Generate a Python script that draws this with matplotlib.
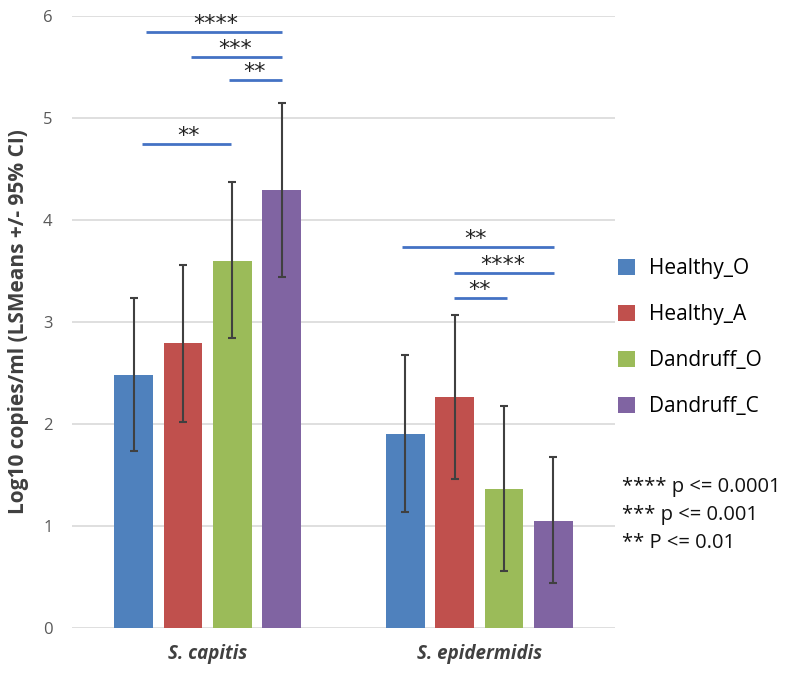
import matplotlib
matplotlib.use("Agg")
import matplotlib.pyplot as plt
import numpy as np
from matplotlib.patches import Patch

plt.rcParams['font.family'] = ['Open Sans', 'DejaVu Sans']

categories = ["S. capitis", "S. epidermidis"]
series = ["Healthy_O", "Healthy_A", "Dandruff_O", "Dandruff_C"]
colors = ["#4F81BD", "#C0504D", "#9BBB59", "#8064A2"]

means = {
    "Healthy_O":  [2.48, 1.90],
    "Healthy_A":  [2.79, 2.26],
    "Dandruff_O": [3.60, 1.36],
    "Dandruff_C": [4.29, 1.05],
}
upper = {
    "Healthy_O":  [3.23, 2.67],
    "Healthy_A":  [3.56, 3.07],
    "Dandruff_O": [4.37, 2.17],
    "Dandruff_C": [5.15, 1.67],
}
lower = {
    "Healthy_O":  [1.73, 1.13],
    "Healthy_A":  [2.02, 1.46],
    "Dandruff_O": [2.84, 0.56],
    "Dandruff_C": [3.44, 0.44],
}

# significance brackets: (x_start, x_end, y, label) in data units
sig_lines = [
    (-0.227, 0.2735, 5.84, "****"),
    (-0.062, 0.2735, 5.60, "***"),
    (0.078, 0.2735, 5.37, "**"),
    (-0.243, 0.086, 4.74, "**"),
    (0.716, 1.2735, 3.73, "**"),
    (0.907, 1.2735, 3.48, "****"),
    (0.907, 1.102, 3.23, "**"),
]
sig_text_x = [0.030, 0.100, 0.174, -0.069, 0.988, 1.088, 1.001]

pvals = ["**** p <= 0.0001", "*** p <= 0.001", "** P <= 0.01"]

fig = plt.figure(figsize=(8, 6.75), dpi=100)
ax = fig.add_axes([0.09, 0.0701, 0.67875, 0.9062])

x = np.arange(len(categories))
width = 0.1436
step = 0.1823
offsets = [-1.5 * step, -0.5 * step, 0.5 * step, 1.5 * step]

for s, c, off in zip(series, colors, offsets):
    m = np.array(means[s])
    up = np.array(upper[s]) - m
    lo = m - np.array(lower[s])
    ax.bar(x + off, m, width, color=c, label=s, zorder=2)
    ax.errorbar(x + off, m, yerr=[lo, up], fmt='none', ecolor='#404040',
                elinewidth=1.5, capsize=3, capthick=1.5, zorder=3)

for (x0, x1, y, lab), tx in zip(sig_lines, sig_text_x):
    ax.plot([x0, x1], [y, y], color='#4472C4', lw=2, zorder=3, solid_capstyle='butt')
    ax.text(tx, y + 0.02, lab, ha='center', va='baseline', fontsize=16,
            color='#222222', family=['DejaVu Sans'])

ax.set_xlim(-0.5, 1.5)
ax.set_ylim(0, 6)
ax.set_yticks(range(0, 7))
ax.set_yticklabels([str(i) for i in range(0, 7)], color='#595959', fontsize=12)
ax.set_xticks(x)
ax.set_xticklabels(categories, fontsize=13.5, fontweight='bold', style='italic', color='#404040')
ax.tick_params(axis='both', length=0)
ax.tick_params(axis='x', pad=12)
ax.tick_params(axis='y', pad=14)
ax.yaxis.grid(True, color='#D9D9D9', lw=1.2, zorder=0)
ax.set_axisbelow(True)
for sp in ax.spines.values():
    sp.set_visible(False)

ax.set_ylabel("Log10 copies/ml (LSMeans +/- 95% CI)", fontsize=15, fontweight='bold',
              color='#404040', labelpad=10)

handles = [Patch(facecolor=c, edgecolor='none') for c in colors]
fig.legend(handles, series, loc='upper left', bbox_to_anchor=(0.749, 0.645),
           frameon=False, fontsize=15, handlelength=0.8, handleheight=0.8,
           handletextpad=0.7, labelspacing=1.2)

for i, t in enumerate(pvals):
    fig.text(0.7775, 1 - (487 + i * 28) / 675, t, fontsize=14.5, va='center', ha='left',
             color='#111111')

fig.savefig("out.png", dpi=100)
